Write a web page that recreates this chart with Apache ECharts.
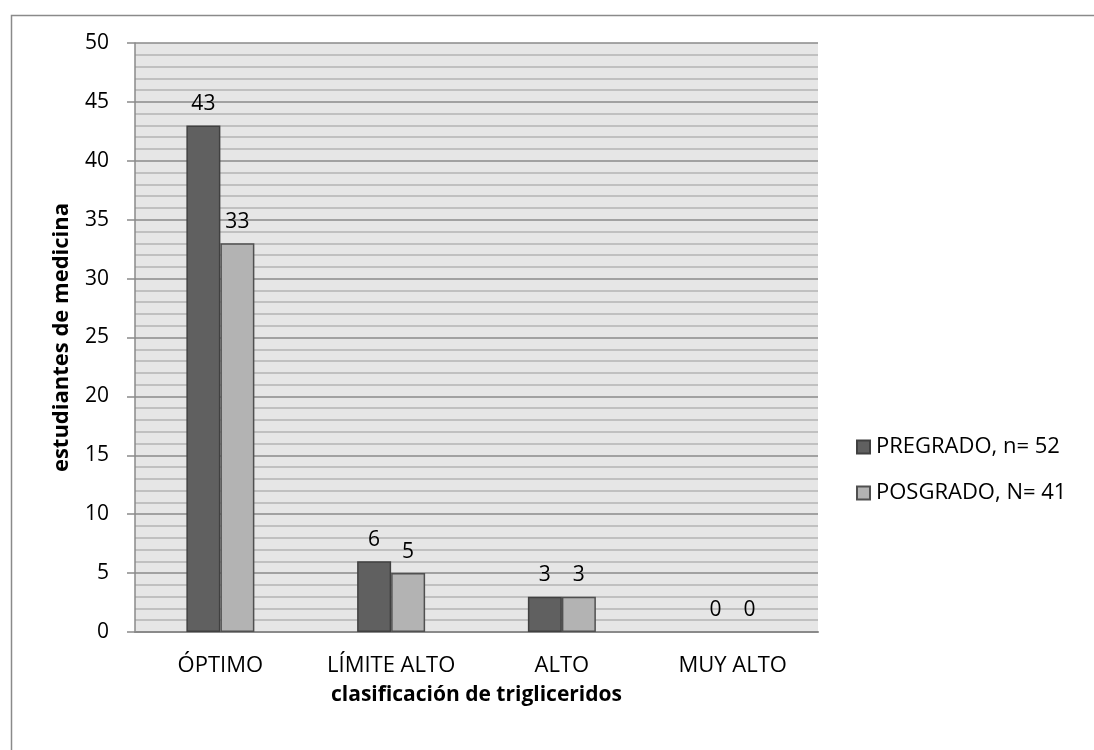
<!DOCTYPE html>
<html>
<head>
<meta charset="utf-8">
<script src="https://cdn.jsdelivr.net/npm/echarts@6/dist/echarts.min.js"></script>
<style>
  html, body { margin: 0; padding: 0; background: #fff; }
  #chart { width: 1094px; height: 750px; }
</style>
</head>
<body>
<div id="chart"></div>
<script>
// Triglyceride classification of medical students
const categories = ['ÓPTIMO', 'LÍMITE ALTO', 'ALTO', 'MUY ALTO'];
const pregrado = [43, 6, 3, 0];
const posgrado = [33, 5, 3, 0];
const seriesNames = ['PREGRADO, n= 52', 'POSGRADO, N= 41'];
const yTicks = { min: 0, max: 50, interval: 5 };

const FONT = '"Open Sans", "Noto Sans", "Liberation Sans", sans-serif';

const chart = echarts.init(document.getElementById('chart'), null, { renderer: 'canvas' });

const labelStyle = {
  show: true,
  position: 'top',
  distance: 11,
  color: '#000',
  fontFamily: FONT,
  fontSize: 21
};

// zero-height bars carry no outline so the baseline stays clean
const asBars = values => values.map(v => (v === 0 ? { value: v, itemStyle: { borderWidth: 0 } } : v));

chart.setOption({
  animation: false,
  backgroundColor: '#fff',
  graphic: [{
    type: 'rect',
    left: 9, top: 13,
    shape: { width: 1084, height: 760 },
    style: { fill: 'none', stroke: '#8a8a8a', lineWidth: 1.5 },
    silent: true
  }],
  grid: {
    left: 135, right: 276, top: 43, bottom: 118,
    show: true,
    backgroundColor: '#e6e6e6',
    borderWidth: 0
  },
  legend: {
    orient: 'vertical',
    left: 851,
    top: 431,
    itemWidth: 13,
    itemHeight: 13,
    itemGap: 24,
    icon: 'rect',
    textStyle: { fontFamily: FONT, fontSize: 22, color: '#000', padding: [0, 0, 0, 1] },
    data: seriesNames
  },
  xAxis: {
    type: 'category',
    data: categories,
    name: 'clasificación de triglicеridos'.replace('е', 'e'),
    nameLocation: 'middle',
    nameGap: 53,
    nameTextStyle: { fontFamily: FONT, fontSize: 21, fontWeight: 'bold', color: '#000' },
    axisLine: { lineStyle: { color: '#8a8a8a', width: 2 } },
    axisTick: { show: false },
    axisLabel: { fontFamily: FONT, fontSize: 22, color: '#000', margin: 23 },
    splitLine: { show: false }
  },
  yAxis: {
    type: 'value',
    min: yTicks.min,
    max: yTicks.max,
    interval: yTicks.interval,
    name: 'estudiantes de medicina',
    nameLocation: 'middle',
    nameGap: 62,
    nameTextStyle: { fontFamily: FONT, fontSize: 22, fontWeight: 'bold', color: '#000' },
    axisLine: { show: true, lineStyle: { color: '#8a8a8a', width: 1.5 } },
    axisTick: { show: true, length: 8, lineStyle: { color: '#8a8a8a', width: 1.5 } },
    axisLabel: { fontFamily: FONT, fontSize: 21, color: '#000', margin: 26 },
    splitLine: { show: true, lineStyle: { color: '#8a8a8a', width: 1.5 } },
    minorTick: { show: false, splitNumber: 5 },
    minorSplitLine: { show: true, lineStyle: { color: '#b4b4b4', width: 1.5 } }
  },
  series: [
    {
      name: seriesNames[0],
      type: 'bar',
      data: asBars(pregrado),
      barWidth: 34,
      barGap: '0%',
      itemStyle: { color: '#606060', borderColor: '#404040', borderWidth: 1.5 },
      label: labelStyle
    },
    {
      name: seriesNames[1],
      type: 'bar',
      data: asBars(posgrado),
      barWidth: 34,
      barGap: '0%',
      itemStyle: { color: '#b3b3b3', borderColor: '#505050', borderWidth: 1.5 },
      label: labelStyle
    }
  ]
});
</script>
</body>
</html>
